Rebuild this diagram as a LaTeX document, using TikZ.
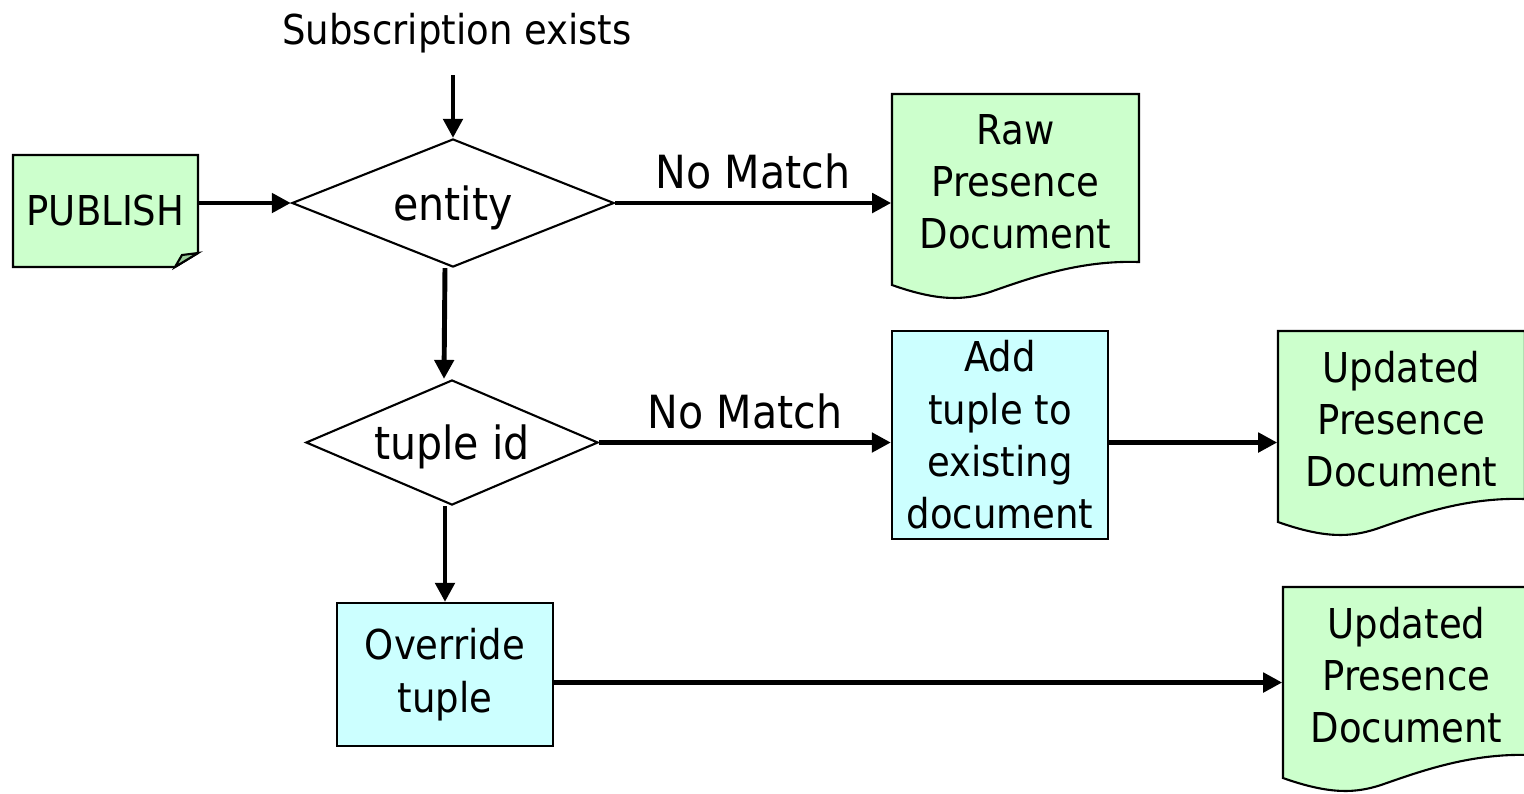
\documentclass[tikz,border=0pt]{standalone}
\usepackage{fontspec}
\setmainfont{DejaVu Sans Condensed}
\usetikzlibrary{shapes.geometric,arrows.meta}
\definecolor{docgreen}{HTML}{CCFFCC}
\definecolor{foldgreen}{HTML}{99CC99}
\definecolor{boxcyan}{HTML}{CCFFFF}
\tikzset{flow/.style={-{Triangle[length=1.9mm,width=1.9mm]},line width=1.4pt}}
\tikzset{outline/.style={draw,line width=0.6pt,fill=docgreen}}
\tikzset{decision/.style={diamond,draw,line width=0.6pt,inner sep=0pt,aspect=2.5,text depth=0pt,font=\fontsize{13}{15}\selectfont}}
\tikzset{process/.style={rectangle,draw,line width=0.6pt,fill=boxcyan,inner sep=0pt,align=center,font=\fontsize{11.7}{14.9}\selectfont}}
\tikzset{doctext/.style={rectangle,inner sep=0pt,align=center,font=\fontsize{11.7}{14.8}\selectfont}}
\tikzset{branch/.style={midway,above=0.11cm,inner sep=0pt,font=\fontsize{13}{16}\selectfont}}

\begin{document}
\begin{tikzpicture}[x=0.01cm,y=-0.01cm]
  \useasboundingbox (0,0) rectangle (1524,793);
  % document outlines
  \foreach \dx/\dy in {892/94,1278/331,1283/587}
    \path[outline,shift={(\dx,\dy)}] (0,0) -- (247,0) -- (247,168) .. controls (188,166) and (138,184) .. (98,198) .. controls (73,206) and (48,208) .. (0,191) -- cycle;
  % note with folded corner
  \path[outline] (13,155) -- (198,155) -- (198,253) -- (175,267) -- (13,267) -- cycle;
  \path[outline,fill=foldgreen] (175,267) -- (182,255) -- (198,253) -- cycle;

  \node[doctext] (sub) at (457,33) {Subscription exists};
  \coordinate (top) at (453,75);
  \node[doctext,minimum width=1.85cm,minimum height=1.12cm] (pub) at (105.5,211) {PUBLISH};
  \node[decision,minimum width=3.22cm,minimum height=1.28cm] (ent) at (453,203) {entity};
  \node[decision,minimum width=2.92cm,minimum height=1.25cm] (tid) at (452,442.5) {tuple id};
  \node[doctext,minimum width=2.47cm,minimum height=1.76cm] (raw) at (1015.5,182) {Raw\\Presence\\Document};
  \node[process,minimum width=2.16cm,minimum height=2.08cm] (add) at (1000,435) {Add\\tuple to\\existing\\document};
  \node[doctext,minimum width=2.47cm,minimum height=1.76cm] (upd) at (1401.5,419) {Updated\\Presence\\Document};
  \node[process,minimum width=2.16cm,minimum height=1.43cm] (ovr) at (445,674.5) {Override\\tuple};
  \node[doctext,minimum width=2.47cm,minimum height=1.76cm] (upd2) at (1406.5,675) {Updated\\Presence\\Document};

  \draw[flow] (top) -- (ent);
  \draw[flow] (pub.east |- ent) -- (ent.west);
  \draw[flow] (ent.east) -- node[branch] (nm1) {No Match} (ent.east -| raw.west);
  \draw[flow] ([xshift=-0.08cm]ent.south) -- ([xshift=-0.08cm]tid.north);
  \draw[flow] (tid.east) -- node[branch] (nm2) {No Match} (tid.east -| add.west);
  \draw[flow] (add.east |- tid) -- (tid -| upd.west);
  \draw[flow] (tid.south -| ovr.north) -- (ovr.north);
  \draw[flow] ([yshift=-0.08cm]ovr.east) -- ([yshift=-0.08cm]ovr.east -| upd2.west);
\end{tikzpicture}
\end{document}
